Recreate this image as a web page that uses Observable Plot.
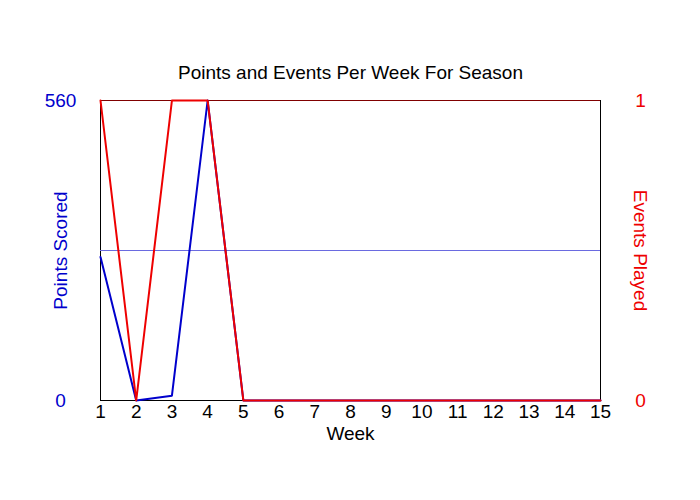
<!DOCTYPE html>
<html>
<head>
<meta charset="utf-8">
<script src="https://cdn.jsdelivr.net/npm/d3@7"></script>
<script src="https://cdn.jsdelivr.net/npm/@observablehq/plot@0.6"></script>
<style>
  html, body { margin: 0; padding: 0; background: #fff; }
  svg { font-family: "Liberation Sans", Arial, sans-serif; }
</style>
</head>
<body>
<div id="chart"></div>
<script>
const title = "Points and Events Per Week For Season";
const weeks = [1, 2, 3, 4, 5, 6, 7, 8, 9, 10, 11, 12, 13, 14, 15];
const points = [268, 0, 9, 560, 0, 0, 0, 0, 0, 0, 0, 0, 0, 0, 0];
const events = [1, 0, 1, 1, 0, 0, 0, 0, 0, 0, 0, 0, 0, 0, 0];
const pointsMax = 560;
const eventsMax = 1;
const referenceLine = 280;

const scaleFactor = pointsMax / eventsMax;
const pointsData = weeks.map((w, i) => ({week: w, value: points[i]}));
const eventsData = weeks.map((w, i) => ({week: w, value: events[i] * scaleFactor}));

const chart = Plot.plot({
  width: 700,
  height: 500,
  marginLeft: 100,
  marginRight: 100,
  marginTop: 100,
  marginBottom: 100,
  style: {fontFamily: "Liberation Sans, Arial, sans-serif", background: "white"},
  x: {domain: [1, 15]},
  y: {domain: [0, pointsMax]},
  marks: [
    Plot.frame({stroke: "black", strokeWidth: 1}),
    Plot.ruleY([pointsMax], {stroke: "#800000", strokeWidth: 1}),
    Plot.ruleY([referenceLine], {stroke: "#6a6ae0", strokeWidth: 1}),
    Plot.line(pointsData, {x: "week", y: "value", stroke: "#0000cc", strokeWidth: 2}),
    Plot.line(eventsData, {x: "week", y: "value", stroke: "#ee0000", strokeWidth: 2}),
    Plot.axisX({ticks: weeks, tickSize: 0, tickPadding: 4, tickFormat: d => String(d),
      fontSize: 19, fill: "black", label: null}),
    Plot.axisY({anchor: "left", ticks: [0, pointsMax], tickSize: 0, tickPadding: 40,
      textAnchor: "middle", fontSize: 19, fill: "#0000cc", label: null}),
    Plot.axisY({anchor: "right", ticks: [0, pointsMax], tickSize: 0, tickPadding: 40,
      textAnchor: "middle", fontSize: 19, fill: "#ee0000", label: null,
      tickFormat: d => String(d / scaleFactor)}),
    Plot.text([title], {frameAnchor: "top", lineAnchor: "middle", textAnchor: "middle", dy: -28, fontSize: 19, fill: "black"}),
    Plot.text(["Week"], {frameAnchor: "bottom", lineAnchor: "middle", textAnchor: "middle", dy: 33, fontSize: 19, fill: "black"}),
    Plot.text(["Points Scored"], {frameAnchor: "left", lineAnchor: "middle", textAnchor: "middle", dx: -40, rotate: -90, fontSize: 19, fill: "#0000cc"}),
    Plot.text(["Events Played"], {frameAnchor: "right", lineAnchor: "middle", textAnchor: "middle", dx: 40, rotate: 90, fontSize: 19, fill: "#ee0000"})
  ]
});
document.getElementById("chart").appendChild(chart);
</script>
</body>
</html>
